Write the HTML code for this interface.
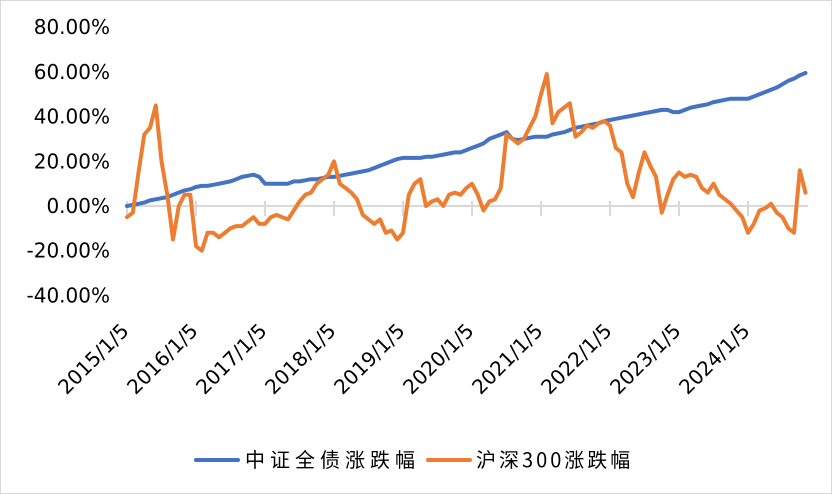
<!DOCTYPE html>
<html><head><meta charset="utf-8"><style>
html,body{margin:0;padding:0;background:#fff}
svg{display:block;font-family:"DejaVu Sans","Noto Sans CJK SC",sans-serif}
</style></head><body>
<svg width="832" height="494" viewBox="0 0 832 494">
<rect x="0.5" y="0.5" width="831" height="493" fill="#fff" stroke="#d9d9d9"/>
<g id="yaxis"></g>
<g id="xaxis"></g>
<g id="series"></g>
<g>
<g>
<line x1="196" y1="460" x2="238" y2="460" stroke="#4472C4" stroke-width="4" stroke-linecap="round"/>
<text x="245" y="467" font-size="20" letter-spacing="5" fill="#000" font-family="'Noto Sans CJK SC',sans-serif">中证全债涨跌幅</text></g>
<g>
<line x1="428" y1="460" x2="470" y2="460" stroke="#ED7D31" stroke-width="4" stroke-linecap="round"/>
<text x="476" y="467" font-size="20" letter-spacing="3" fill="#000" font-family="'Noto Sans CJK SC',sans-serif">沪深300涨跌幅</text></g>
</g>
</svg>
<script>
const yTicks=[80,60,40,20,0,-20,-40];
const xLabels=["2015/1/5","2016/1/5","2017/1/5","2018/1/5","2019/1/5","2020/1/5","2021/1/5","2022/1/5","2023/1/5","2024/1/5"];
const bondSeries=[0,0.5,1,1.5,2.5,3,3.5,4,5,6,7,7.5,
8.5,9,9,9.5,10,10.5,11,12,13,13.5,14,13,
10,10,10,10,10,11,11,11.5,12,12,12.5,13,
13,13.5,14,14.5,15,15.5,16,17,18,19,20,21,
21.5,21.5,21.5,21.5,22,22,22.5,23,23.5,24,24,25,
26,27,28,30,31,32,33,30,29.5,30,30.5,31,
31,31,32,32.5,33,34,35,35.5,36,36.5,37,38,
38.5,39,39.5,40,40.5,41,41.5,42,42.5,43,43,42,
42,43,44,44.5,45,45.5,46.5,47,47.5,48,48,48,
48,49,50,51,52,53,54.5,56,57,58.5,59.5];
const csiSeries=[-5,-3,15,32,35,45,20,5,-15,0,5,5,
-18,-20,-12,-12,-14,-12,-10,-9,-9,-7,-5,-8,
-8,-5,-4,-5,-6,-2,2,5,6,10,12,14,
20,10,8,6,3,-4,-6,-8,-6,-12,-11,-15,
-12,5,10,12,0,2,3,0,5,6,5,8,
10,5,-2,2,3,8,32,30,28,30,35,40,
50,59,37,42,44,46,31,33,36,35,37,38,
36,26,24,10,4,15,24,18,13,-3,5,12,
15,13,14,13,8,6,10,5,3,1,-2,-5,
-12,-8,-2,-1,1,-3,-5,-10,-12,16,6];
const NS="http://www.w3.org/2000/svg";
const X0=127,MONTH=5.75;
function xPos(i){return X0+i*MONTH;}
function yPos(v){return 206-v*2.235;}
function mk(tag,attrs,parent){const e=document.createElementNS(NS,tag);for(const k in attrs)e.setAttribute(k,attrs[k]);parent.appendChild(e);return e;}
const ya=document.getElementById('yaxis'),xa=document.getElementById('xaxis'),sg=document.getElementById('series');
yTicks.forEach(v=>{
 const t=mk('text',{x:110,y:yPos(v)+7,'text-anchor':'end','font-size':20,fill:'#000'},ya);
 
 
 t.textContent=v.toFixed(2)+'%';
});
const ax=mk('line',{x1:X0,y1:yPos(0),x2:808,y2:yPos(0),stroke:'#d9d9d9','stroke-width':2},xa);


xLabels.forEach((l,k)=>{
 const x=xPos(k*12);
 const tk=mk('line',{x1:x,y1:201,x2:x,y2:216,stroke:'#d9d9d9','stroke-width':2},xa);
 
 
 const t=mk('text',{x:x+3,y:332,'text-anchor':'end','font-size':20,fill:'#000',transform:`rotate(-45 ${x+3} 332)`},xa);
 
 
 t.textContent=l;
});
function line(data,color,name){
 const d=data.map((v,i)=>(i?'L':'M')+xPos(i).toFixed(1)+' '+yPos(v).toFixed(1)).join(' ');
 const p=mk('path',{d:d,fill:'none',stroke:color,'stroke-width':4,'stroke-linejoin':'round','stroke-linecap':'round'},sg);
 
 
}
line(bondSeries,'#4472C4','bond-index-line');
line(csiSeries,'#ED7D31','csi300-line');
</script>
</body></html>
